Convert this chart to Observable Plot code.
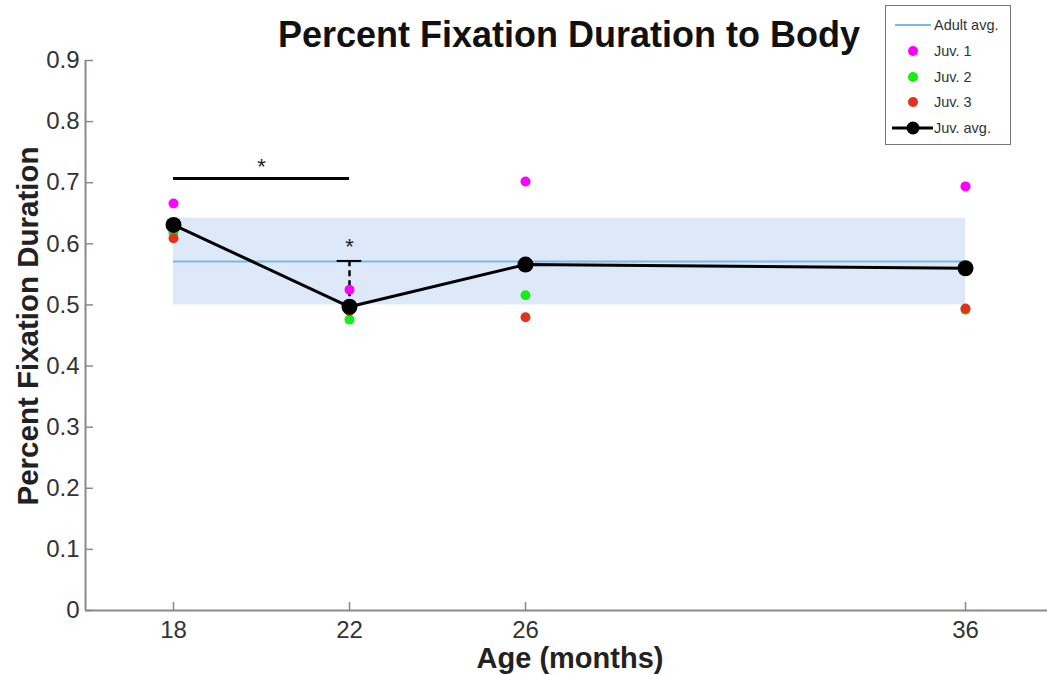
<!DOCTYPE html>
<html>
<head>
<meta charset="utf-8">
<script src="https://cdn.jsdelivr.net/npm/d3@7"></script>
<script src="https://cdn.jsdelivr.net/npm/@observablehq/plot@0.6"></script>
<style>
  html, body { margin: 0; padding: 0; background: #fff; overflow: hidden; }
  #wrap { position: relative; width: 1047px; height: 675px; font-family: "Liberation Sans", Arial, sans-serif; }
  #title { position: absolute; left: 569px; top: 35px; transform: translate(-50%, -50%); font-weight: bold; font-size: 36px; color: #111; white-space: nowrap; }
  .axlabel { position: absolute; transform: translate(-50%, -50%); font-weight: bold; font-size: 29px; color: #222; white-space: nowrap; }
  #ylabel { left: 28px; top: 326px; font-size: 29.5px; transform: translate(-50%, -50%) rotate(-90deg); }
  #xlabel { left: 570px; top: 658px; }
  #legend { position: absolute; left: 885px; top: 5px; width: 126px; height: 140px; border: 1.5px solid #777; background: #fff; box-sizing: border-box; font-size: 14.5px; color: #333; }
  .row { position: absolute; left: 0; height: 20px; display: flex; align-items: center; }
  .row svg { display: block; }
  #chart { position: absolute; left: 0; top: 0; }
</style>
</head>
<body>
<div id="wrap">
  <div id="chart"></div>
  <div id="title">Percent Fixation Duration to Body</div>
  <div id="ylabel" class="axlabel">Percent Fixation Duration</div>
  <div id="xlabel" class="axlabel">Age (months)</div>
  <div id="legend"></div>
</div>
<script>
// ---- data ----
const ages = [18, 22, 26, 36];
const juv1 = [0.666, 0.525, 0.702, 0.694];
const juv2 = [0.618, 0.476, 0.516, 0.492];
const juv3 = [0.609, 0.490, 0.480, 0.494];
const juvAvg = [0.631, 0.497, 0.566, 0.560];
const adultAvg = 0.571;
const adultBand = [0.500, 0.642];
const adultAges = [18, 36];
const xTicks = [18, 22, 26, 36];
const yTicks = [0, 0.1, 0.2, 0.3, 0.4, 0.5, 0.6, 0.7, 0.8, 0.9];
const errorBarAge = 22;
const errorBarTop = 0.572;
const sigAges = [18, 22];
const sigLevel = 0.707;

const colors = { juv1: "#ff00ff", juv2: "#14ee14", juv3: "#e0321c", adult: "#7db8e2", band: "#dde9f9", avg: "#000" };

const pts = (arr) => ages.map((a, i) => ({ age: a, v: arr[i] }));
const avgPts = pts(juvAvg);
const errBase = juvAvg[ages.indexOf(errorBarAge)];

const xDomain = [16, 38];
const pxPerMonth = 44;
const tickLenX = 8 / pxPerMonth;
const tickLenY = 8 / (550 / 0.9);

const chart = Plot.plot({
  width: 1047,
  height: 675,
  marginTop: 60,
  marginBottom: 65,
  marginLeft: 85,
  marginRight: 0,
  style: { fontFamily: "Liberation Sans, Arial, sans-serif", background: "transparent", overflow: "visible" },
  x: { domain: xDomain, range: [85, 1053] },
  y: { domain: [0, 0.9] },
  marks: [
    Plot.rect([{ x1: adultAges[0], x2: adultAges[1], y1: adultBand[0], y2: adultBand[1] }], { x1: "x1", x2: "x2", y1: "y1", y2: "y2", fill: colors.band }),
    Plot.ruleY([adultAvg], { x1: adultAges[0], x2: adultAges[1], stroke: colors.adult, strokeWidth: 2 }),
    // axes lines
    Plot.ruleY([0], { x1: xDomain[0], x2: xDomain[1], stroke: "#8a8a8a", strokeWidth: 2 }),
    Plot.ruleX([xDomain[0]], { y1: 0, y2: 0.9, stroke: "#8a8a8a", strokeWidth: 2 }),
    // inward ticks
    Plot.ruleY(yTicks, { x1: xDomain[0], x2: xDomain[0] + tickLenX, stroke: "#8a8a8a", strokeWidth: 1.5 }),
    Plot.ruleX(xTicks, { y1: 0, y2: tickLenY, stroke: "#8a8a8a", strokeWidth: 1.5 }),
    Plot.axisY(yTicks, { tickSize: 0, tickPadding: 6, fontSize: 24, fill: "#333", tickFormat: d => d === 0 ? "0" : d3.format(".1f")(d), label: null }),
    Plot.axisX(xTicks, { tickSize: 0, tickPadding: 10, fontSize: 24, fill: "#333", label: null }),
    // significance
    Plot.ruleY([sigLevel], { x1: sigAges[0], x2: sigAges[1], stroke: "#000", strokeWidth: 3 }),
    Plot.text(["*"], { x: (sigAges[0] + sigAges[1]) / 2, y: sigLevel, dy: -11, text: d => d, fontSize: 22, fill: "#222" }),
    // error bar
    Plot.ruleX([errorBarAge], { y1: errBase, y2: errorBarTop, stroke: "#000", strokeWidth: 2.5, strokeDasharray: "6,4" }),
    Plot.ruleY([errorBarTop], { x1: errorBarAge - 0.28, x2: errorBarAge + 0.28, stroke: "#000", strokeWidth: 2 }),
    Plot.text(["*"], { x: errorBarAge, y: errorBarTop, dy: -14, text: d => d, fontSize: 22, fill: "#222" }),
    // juveniles
    Plot.dot(pts(juv1), { x: "age", y: "v", r: 5, fill: colors.juv1 }),
    Plot.dot(pts(juv2), { x: "age", y: "v", r: 5, fill: colors.juv2 }),
    Plot.dot(pts(juv3), { x: "age", y: "v", r: 5, fill: colors.juv3 }),
    // average
    Plot.line(avgPts, { x: "age", y: "v", stroke: colors.avg, strokeWidth: 3 }),
    Plot.dot(avgPts, { x: "age", y: "v", r: 8, fill: colors.avg })
  ]
});
document.getElementById("chart").appendChild(chart);

// legend
const legendItems = [
  { label: "Adult avg.", kind: "line", color: colors.adult },
  { label: "Juv. 1", kind: "dot", color: colors.juv1 },
  { label: "Juv. 2", kind: "dot", color: colors.juv2 },
  { label: "Juv. 3", kind: "dot", color: colors.juv3 },
  { label: "Juv. avg.", kind: "avg", color: colors.avg }
];
const legend = document.getElementById("legend");
legendItems.forEach((it, i) => {
  const row = document.createElement("div");
  row.className = "row";
  row.style.top = (9 + i * 25.8) + "px";
  let icon;
  if (it.kind === "line") icon = `<svg width="48" height="20"><line x1="9" x2="45" y1="10" y2="10" stroke="${it.color}" stroke-width="2"/></svg>`;
  else if (it.kind === "dot") icon = `<svg width="48" height="20"><circle cx="27" cy="10" r="5" fill="${it.color}"/></svg>`;
  else icon = `<svg width="48" height="20"><line x1="6" x2="47" y1="10" y2="10" stroke="#000" stroke-width="3"/><circle cx="27" cy="10" r="6.5" fill="#000"/></svg>`;
  row.innerHTML = icon + `<span>${it.label}</span>`;
  legend.appendChild(row);
});
</script>
</body>
</html>
